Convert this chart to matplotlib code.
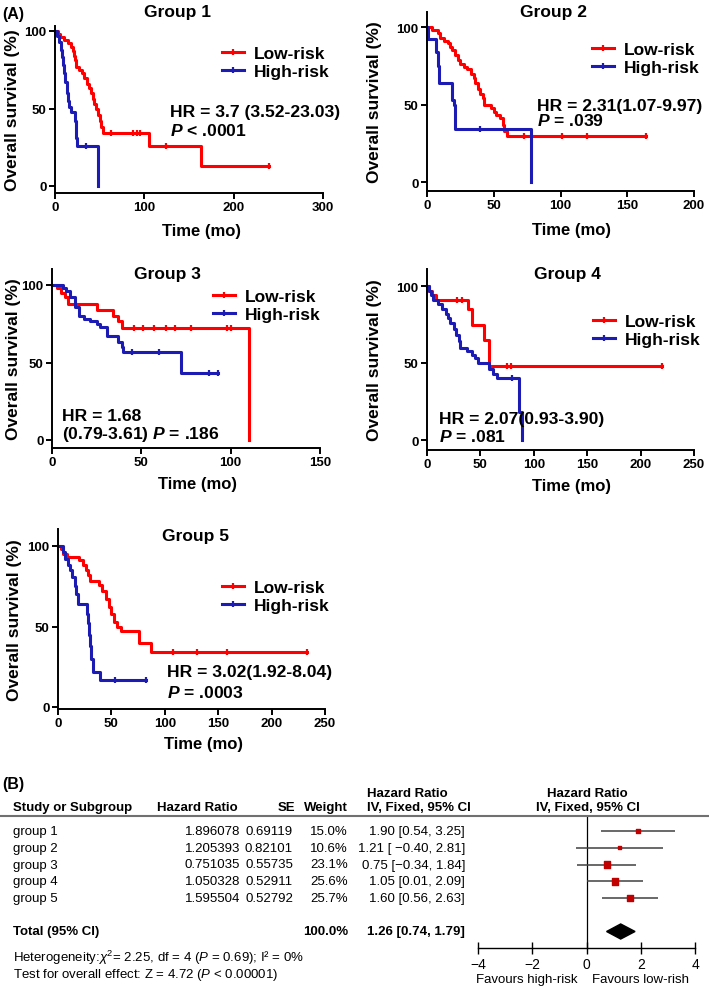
import numpy as np
import matplotlib
import matplotlib.pyplot as plt
from matplotlib.lines import Line2D

# =========================
# DATA  (Kaplan-Meier steps)
# =========================
g1_low_t = [0, 3, 6, 10, 14, 18, 20, 21, 22, 24, 27, 30, 33, 36, 38, 40, 42, 44, 46, 48, 50, 52, 54, 105, 163, 240]
g1_low_s = [100, 98, 96, 94, 92, 90, 87, 84, 81, 77, 75, 73, 70, 66, 63, 60, 56, 53, 50, 46, 42, 38, 34, 26, 13, 13]
g1_low_c = [63, 87, 92, 95, 124, 240]
g1_high_t = [0, 2, 5, 7, 8, 9, 10, 11, 13, 14, 16, 18, 22, 23, 24, 25, 48]
g1_high_s = [100, 97, 93, 88, 83, 78, 73, 67, 60, 55, 51, 48, 42, 36, 31, 26, 0]
g1_high_c = [35]

g2_low_t = [0, 4, 8, 10, 13, 16, 17, 19, 21, 23, 25, 28, 30, 33, 35, 36, 38, 40, 42, 43, 48, 50, 52, 55, 57, 58, 60, 164]
g2_low_s = [100, 98, 96, 93, 91, 90, 87, 85, 82, 79, 76, 74, 73, 70, 67, 64, 60, 57, 54, 50, 48, 45, 43, 41, 37, 33, 30, 30]
g2_low_c = [73, 101, 120, 164]
g2_high_t = [0, 1, 7, 8, 9, 19, 20, 21, 78]
g2_high_s = [100, 92, 84, 75, 64, 53, 50, 34, 0]
g2_high_c = [40]

g3_low_t = [0, 3, 5, 7, 9, 25, 34, 37, 39, 110]
g3_low_s = [100, 98, 95, 92, 88, 84, 80, 77, 72, 0]
g3_low_c = [46, 51, 57, 64, 69, 78, 98, 100]
g3_high_t = [0, 6, 8, 10, 13, 15, 18, 21, 25, 27, 31, 37, 39, 40, 72, 93]
g3_high_s = [100, 98, 96, 92, 86, 80, 78, 77, 75, 73, 67, 63, 60, 57, 43, 43]
g3_high_c = [45, 60, 88, 93]

g4_low_t = [0, 2, 5, 8, 38, 42, 53, 58, 220]
g4_low_s = [100, 97, 94, 91, 85, 75, 65, 48, 48]
g4_low_c = [28, 33, 75, 79, 220]
g4_high_t = [0, 2, 4, 6, 10, 14, 18, 20, 22, 25, 27, 30, 31, 37, 42, 45, 48, 58, 62, 66, 86, 89]
g4_high_s = [100, 97, 94, 91, 88, 85, 82, 79, 76, 72, 68, 64, 60, 58, 55, 53, 50, 46, 43, 40, 18, 0]
g4_high_c = [80]

g5_low_t = [0, 3, 5, 8, 20, 23, 26, 28, 30, 38, 41, 45, 48, 50, 52, 55, 59, 76, 87, 233]
g5_low_s = [100, 98, 95, 93, 91, 88, 85, 82, 78, 76, 72, 67, 62, 58, 53, 50, 47, 40, 34, 34]
g5_low_c = [108, 130, 158, 233]
g5_high_t = [0, 5, 7, 9, 11, 13, 16, 17, 19, 27, 28, 29, 30, 31, 33, 39, 82]
g5_high_s = [100, 96, 92, 88, 85, 81, 75, 70, 64, 58, 52, 45, 38, 30, 22, 17, 17]
g5_high_c = [53, 82]

hr_text = ["HR = 3.7 (3.52-23.03)", "HR = 2.31(1.07-9.97)", "HR = 1.68",
           "HR = 2.07(0.93-3.90)", "HR = 3.02(1.92-8.04)"]
p_text = [r"$\mathbfit{P}$ < .0001", r"$\mathbfit{P}$ = .039", r"(0.79-3.61) $\mathbfit{P}$ = .186",
          r"$\mathbfit{P}$ = .081", r"$\mathbfit{P}$ = .0003"]

# forest plot data
groups = ["group 1", "group 2", "group 3", "group 4", "group 5"]
log_hr = ["1.896078", "1.205393", "0.751035", "1.050328", "1.595504"]
se = ["0.69119", "0.82101", "0.55735", "0.52911", "0.52792"]
weight = [15.0, 10.6, 23.1, 25.6, 25.7]
est = [1.90, 1.21, 0.75, 1.05, 1.60]
ci_lo = [0.54, -0.40, -0.34, 0.01, 0.56]
ci_hi = [3.25, 2.81, 1.84, 2.09, 2.63]
ci_text = ["1.90 [0.54, 3.25]", "1.21 [ \u22120.40, 2.81]", "0.75 [\u22120.34, 1.84]",
           "1.05 [0.01, 2.09]", "1.60 [0.56, 2.63]"]
tot_est, tot_lo, tot_hi = 1.26, 0.74, 1.79

# =========================
# STYLE
# =========================
plt.rcParams.update({
    "font.family": ["Liberation Sans", "DejaVu Sans"],
    "axes.labelweight": "bold",
    "mathtext.fontset": "custom",
    "mathtext.rm": "Liberation Sans",
    "mathtext.it": "Liberation Sans:style=italic:weight=normal",
    "mathtext.bf": "Liberation Sans:weight=bold",
    "mathtext.bfit": "Liberation Sans:style=italic:weight=bold",
    "axes.linewidth": 1.4,
    "legend.numpoints": 1,
})

RED = "#ff0000"
BLUE = "#1c1cb4"

W, H = 709, 987
fig = plt.figure(figsize=(W / 100, H / 100), dpi=100)


def fx(x):
    return x / W


def fy(y):
    return 1 - y / H


def km_axes(left, right, y100, y0, bottom, top, xmax, xstep):
    scale = (y0 - y100) / 100
    ax = fig.add_axes([fx(left), fy(bottom), (right - left) / W, (bottom - top) / H])
    ax.set_xlim(0, xmax)
    ax.set_ylim(-(bottom - y0) / scale, 100 + (y100 - top) / scale)
    ax.spines[["top", "right"]].set_visible(False)
    ax.set_xticks(np.arange(0, xmax + 1, xstep))
    ax.set_yticks([0, 50, 100])
    ax.tick_params(direction="out", length=4, width=1.4, labelsize=9.5, pad=2)
    for lab in ax.get_xticklabels() + ax.get_yticklabels():
        lab.set_fontweight("bold")
    ax.patch.set_alpha(0)
    return ax


def km_curve(ax, t, s, cens, color, label):
    ax.step(t, s, where="post", color=color, lw=2.2, label=label, clip_on=False)
    idx = np.searchsorted(t, cens, side="right") - 1
    ax.plot(cens, np.array(s)[idx], ls="none", marker="|", ms=5, mew=1.6,
            color=color, clip_on=False)


# =========================
# PANEL A
# =========================
# left, right, y100, y0, bottom, top, xmax, xstep
layout = [
    (55, 323, 32, 187, 194, 27, 300, 100),
    (427, 694, 28, 183, 192, 13, 200, 50),
    (52, 320, 286, 441, 449, 270, 150, 50),
    (427, 694, 287, 441, 451, 270, 250, 50),
    (58, 325, 547, 708, 710, 530, 250, 50),
]
curves = [
    (g1_low_t, g1_low_s, g1_low_c, g1_high_t, g1_high_s, g1_high_c),
    (g2_low_t, g2_low_s, g2_low_c, g2_high_t, g2_high_s, g2_high_c),
    (g3_low_t, g3_low_s, g3_low_c, g3_high_t, g3_high_s, g3_high_c),
    (g4_low_t, g4_low_s, g4_low_c, g4_high_t, g4_high_s, g4_high_c),
    (g5_low_t, g5_low_s, g5_low_c, g5_high_t, g5_high_s, g5_high_c),
]
title_pos = [(177, 12), (554, 12), (167, 275), (567, 275), (196, 536)]
ylab_x = [13, 375, 14, 375, 14]
xlab_pos = [(201, 232), (572, 230), (197, 485), (572, 487), (203, 745)]
leg_pos = [(222, 52), (592, 48), (213, 295), (593, 320), (222, 586)]
hr_pos = [(170, 113, 131), (537, 106, 121), (62, 417, 435), (439, 420, 437), (167, 673, 693)]

for i, (lay, cv) in enumerate(zip(layout, curves)):
    left, right, y100, y0, bottom, top, xmax, xstep = lay
    ax = km_axes(*lay)
    km_curve(ax, cv[0], cv[1], cv[2], RED, "Low-risk")
    km_curve(ax, cv[3], cv[4], cv[5], BLUE, "High-risk")

    ax.set_xlabel("Time (mo)", fontsize=12)
    ax.xaxis.label.set_va("center")
    ax.xaxis.set_label_coords((xlab_pos[i][0] - left) / (right - left),
                              (bottom - xlab_pos[i][1]) / (bottom - top))
    ax.set_ylabel("Overall survival (%)", fontsize=12.5)
    ax.yaxis.label.set_va("center")
    ax.yaxis.set_label_coords((ylab_x[i] - left) / (right - left), 0.5)

    fig.text(fx(title_pos[i][0]), fy(title_pos[i][1]), f"Group {i + 1}",
             ha="center", va="center", fontsize=12.5, fontweight="bold")

    handles = [Line2D([], [], color=RED, lw=2.2, marker="|", ms=5, mew=1.6),
               Line2D([], [], color=BLUE, lw=2.2, marker="|", ms=5, mew=1.6)]
    ax.legend(handles, ["Low-risk", "High-risk"], loc="upper left",
              bbox_to_anchor=(fx(leg_pos[i][0]), fy(leg_pos[i][1] - 5)),
              bbox_transform=fig.transFigure, frameon=False,
              prop={"size": 12.5, "weight": "bold"},
              handlelength=1.25, handletextpad=0.6, labelspacing=0.15,
              borderpad=0, borderaxespad=0)

    hx, hy1, hy2 = hr_pos[i]
    fig.text(fx(hx), fy(hy1), hr_text[i], ha="left", va="center", fontsize=12.6, fontweight="bold")
    fig.text(fx(hx), fy(hy2), p_text[i], ha="left", va="center", fontsize=12.6, fontweight="bold")

fig.text(fx(2), fy(15), "(A)", ha="left", va="center", fontsize=11.5, fontweight="bold")
fig.text(fx(2), fy(785), "(B)", ha="left", va="center", fontsize=11.5, fontweight="bold")

# =========================
# PANEL B  (table + forest)
# =========================
ROW0, DROW = 832, 16.75


def row_px(i):
    return ROW0 + DROW * i


FS = 9.5
fig.add_artist(Line2D([0, 1], [fy(817), fy(817)], transform=fig.transFigure,
                      color="#707070", lw=1.5))

hdr = dict(va="center", fontsize=FS, fontweight="bold")
fig.text(fx(13), fy(808), "Study or Subgroup", ha="left", **hdr)
fig.text(fx(157), fy(808), "Hazard Ratio", ha="left", **hdr)
fig.text(fx(295), fy(808), "SE", ha="right", **hdr)
fig.text(fx(348), fy(808), "Weight", ha="right", **hdr)
fig.text(fx(367), fy(794), "Hazard Ratio", ha="left", **hdr)
fig.text(fx(367), fy(808), "IV, Fixed, 95% CI", ha="left", **hdr)
fig.text(fx(587), fy(794), "Hazard Ratio", ha="center", **hdr)
fig.text(fx(588), fy(808), "IV, Fixed, 95% CI", ha="center", **hdr)

for i, g in enumerate(groups):
    y = fy(row_px(i))
    fig.text(fx(13), y, g, ha="left", va="center", fontsize=FS)
    fig.text(fx(240), y, log_hr[i], ha="right", va="center", fontsize=FS)
    fig.text(fx(293), y, se[i], ha="right", va="center", fontsize=FS)
    fig.text(fx(348), y, f"{weight[i]:.1f}%", ha="right", va="center", fontsize=FS)
    fig.text(fx(465), y, ci_text[i], ha="right", va="center", fontsize=FS)

yt = fy(row_px(6))
fig.text(fx(13), yt, "Total (95% CI)", ha="left", **hdr)
fig.text(fx(348), yt, "100.0%", ha="right", **hdr)
fig.text(fx(465), yt, f"{tot_est:.2f} [{tot_lo:.2f}, {tot_hi:.2f}]", ha="right", **hdr)
fig.text(fx(13), fy(958), r"Heterogeneity:$\chi^2$= 2.25, df = 4 ($\mathit{P}$ = 0.69); I² = 0%",
         ha="left", va="center", fontsize=FS)
fig.text(fx(13), fy(975), r"Test for overall effect: Z = 4.72 ($\mathit{P}$ < 0.00001)",
         ha="left", va="center", fontsize=FS)

fa = fig.add_axes([fx(478), fy(949), (695 - 478) / W, (949 - 817) / H])
fa.set_xlim(-4, 4)
fa.set_ylim((949 - ROW0) / DROW, (817 - ROW0) / DROW)
fa.spines[["top", "right", "left"]].set_visible(False)
fa.spines["bottom"].set_linewidth(1.0)
fa.set_yticks([])
fa.set_xticks([-4, -2, 0, 2, 4])
fa.tick_params(axis="x", direction="inout", length=9, width=1.0, labelsize=10, pad=2)
fa.patch.set_alpha(0)

rows = np.arange(len(groups))
fa.axvline(0, color="black", lw=0.9)
fa.hlines(rows, ci_lo, ci_hi, color="#404040", lw=1.1)
fa.scatter(est, rows, marker="s", s=(0.19 * np.array(weight)) ** 2,
           color="#c00000", zorder=3)
fa.fill([tot_lo, tot_est, tot_hi, tot_est], [6, 6 - 0.45, 6, 6 + 0.45], color="black")

fig.text(fx(527), fy(980), "Favours high-risk", ha="center", va="center", fontsize=FS)
fig.text(fx(641), fy(980), "Favours low-rish", ha="center", va="center", fontsize=FS)

fig.savefig("out.png", dpi=100)
